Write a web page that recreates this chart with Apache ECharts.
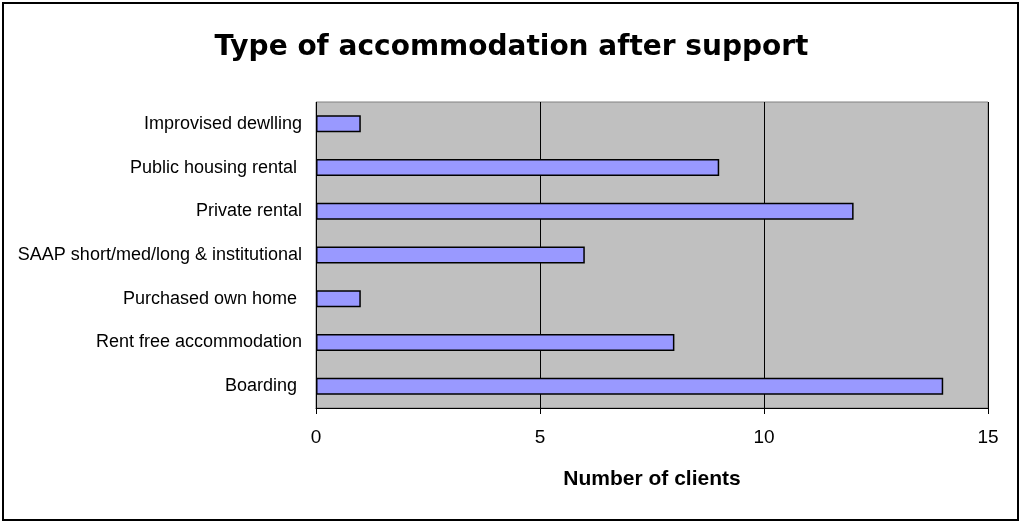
<!DOCTYPE html>
<html><head><meta charset="utf-8">
<script src="https://cdn.jsdelivr.net/npm/echarts@6/dist/echarts.min.js"></script>
<style>html,body{margin:0;padding:0;background:#fff}#c{width:1023px;height:524px}</style>
</head><body><div id="c"></div>
<script>
var categories = ["Improvised dewlling", "Public housing rental ", "Private rental", "SAAP short/med/long & institutional", "Purchased own home ", "Rent free accommodation", "Boarding "];
var clients = [1, 9, 12, 6, 1, 8, 14];
var xTicks = [0, 5, 10, 15];

var chart = echarts.init(document.getElementById('c'));
chart.setOption({
  animation: false,
  backgroundColor: '#fff',
  title: {
    text: 'Type of accommodation after support',
    left: 'center', top: 29,
    textStyle: {fontFamily: 'DejaVu Sans', fontSize: 28, fontWeight: 'bold', color: '#000'}
  },
  graphic: [{
    type: 'rect', shape: {x: 3, y: 3, width: 1015, height: 517},
    style: {fill: 'none', stroke: '#000', lineWidth: 2}, silent: true
  }],
  grid: {left: 316, right: 35, top: 102, bottom: 116, show: true, backgroundColor: '#C0C0C0', borderColor: '#808080', borderWidth: 1},
  xAxis: {
    type: 'value', min: xTicks[0], max: xTicks[xTicks.length - 1], interval: 5,
    name: 'Number of clients', nameLocation: 'middle', nameGap: 61,
    nameTextStyle: {fontFamily: 'Liberation Sans', fontSize: 21, fontWeight: 'bold', color: '#000'},
    axisLine: {show: true, lineStyle: {color: '#000', width: 1}},
    axisTick: {show: true, length: 6, lineStyle: {color: '#000'}},
    axisLabel: {fontFamily: 'Liberation Sans', fontSize: 19, color: '#000', margin: 20},
    splitLine: {show: true, lineStyle: {color: '#000', width: 1}}
  },
  yAxis: {
    type: 'category', data: categories, inverse: true,
    axisLine: {show: false}, axisTick: {show: false},
    axisLabel: {fontFamily: 'Liberation Sans', fontSize: 18, color: '#000', margin: 14}
  },
  series: [{
    type: 'bar', data: clients, barWidth: 17,
    itemStyle: {color: '#9999FF', borderColor: '#000', borderWidth: 1.5}
  }]
});
</script></body></html>
